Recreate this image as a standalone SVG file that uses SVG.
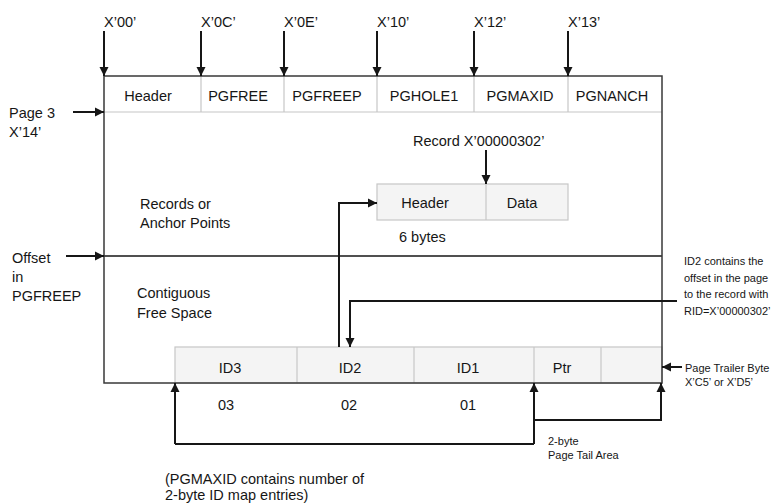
<svg xmlns="http://www.w3.org/2000/svg" width="783" height="504" viewBox="0 0 783 504">
<defs>
<marker id="ah" markerUnits="userSpaceOnUse" markerWidth="10" markerHeight="10" refX="9" refY="5" orient="auto">
<path d="M0,0.5 L9,5 L0,9.5 z" fill="#161616"/>
</marker>
<style>
text{font-family:"Liberation Sans","Noto Sans",sans-serif;fill:#161616}
.t{font-size:14.5px}
.s{font-size:11px}
.m{text-anchor:middle}
.cell{fill:#f4f4f4;stroke:#c6c6c6;stroke-width:1.2}
.div{stroke:#c6c6c6;stroke-width:1.2;fill:none}
.box{fill:none;stroke:#393939;stroke-width:1.5}
.c{fill:none;stroke:#161616;stroke-width:2;marker-end:url(#ah)}
.ln{fill:none;stroke:#161616;stroke-width:2}
.thin{fill:none;stroke:#161616;stroke-width:1.3}
</style>
</defs>
<rect width="783" height="504" fill="#ffffff"/>

<g id="page">
<line class="div" x1="104" y1="112" x2="662" y2="112"/>
<line class="thin" x1="104" y1="256" x2="662" y2="256"/>
</g>

<g id="header-row">
<line class="div" x1="201" y1="76" x2="201" y2="112"/>
<line class="div" x1="284" y1="76" x2="284" y2="112"/>
<line class="div" x1="377" y1="76" x2="377" y2="112"/>
<line class="div" x1="474" y1="76" x2="474" y2="112"/>
<line class="div" x1="568" y1="76" x2="568" y2="112"/>
<text class="t m" x="148" y="101">Header</text>
<text class="t m" x="238" y="101">PGFREE</text>
<text class="t m" x="327" y="101">PGFREEP</text>
<text class="t m" x="424" y="101">PGHOLE1</text>
<text class="t m" x="520" y="101">PGMAXID</text>
<text class="t m" x="612" y="101">PGNANCH</text>
</g>

<g id="record">
<rect class="cell" x="377" y="184" width="191" height="36"/>
<line class="div" x1="486" y1="184" x2="486" y2="220"/>
<text class="t m" x="425" y="208">Header</text>
<text class="t m" x="522" y="208">Data</text>
<text class="t" x="399" y="242">6 bytes</text>
<text class="t" x="413" y="146">Record X’00000302’</text>
</g>

<g id="idmap">
<rect class="cell" x="175" y="347" width="487" height="36"/>
<line class="div" x1="297" y1="347" x2="297" y2="383"/>
<line class="div" x1="414" y1="347" x2="414" y2="383"/>
<line class="div" x1="534" y1="347" x2="534" y2="383"/>
<line class="div" x1="601" y1="347" x2="601" y2="383"/>
<text class="t m" x="230" y="373">ID3</text>
<text class="t m" x="350" y="373">ID2</text>
<text class="t m" x="468" y="373">ID1</text>
<text class="t m" x="562" y="373">Ptr</text>
<text class="t m" x="226" y="410">03</text>
<text class="t m" x="349" y="410">02</text>
<text class="t m" x="468" y="410">01</text>
</g>

<g id="outline">
<rect class="box" x="104" y="76" width="558" height="307"/>
</g>

<g id="offset-labels">
<text class="t" x="104" y="27">X’00’</text>
<text class="t" x="201" y="27">X’0C’</text>
<text class="t" x="284" y="27">X’0E’</text>
<text class="t" x="377" y="27">X’10’</text>
<text class="t" x="474" y="27">X’12’</text>
<text class="t" x="568" y="27">X’13’</text>
</g>

<g id="left-labels">
<text class="t" x="9" y="118">Page 3</text>
<text class="t" x="9" y="137">X’14’</text>
<text class="t" x="12" y="263">Offset</text>
<text class="t" x="12" y="282">in</text>
<text class="t" x="12" y="301">PGFREEP</text>
</g>

<g id="area-labels">
<text class="t" x="140" y="209">Records or</text>
<text class="t" x="140" y="228">Anchor Points</text>
<text class="t" x="137" y="298">Contiguous</text>
<text class="t" x="137" y="318">Free Space</text>
</g>

<g id="notes">
<text class="s" x="684" y="265">ID2 contains the</text>
<text class="s" x="684" y="281.5">offset in the page</text>
<text class="s" x="684" y="298">to the record with</text>
<text class="s" x="684" y="315">RID=X’00000302’</text>
<text class="s" x="685" y="372">Page Trailer Byte</text>
<text class="s" x="685" y="386">X’C5’ or X’D5’</text>
<text class="s" x="548" y="445">2-byte</text>
<text class="s" x="548" y="459">Page Tail Area</text>
<text class="t" x="165" y="484">(PGMAXID contains number of</text>
<text class="t" x="165" y="500">2-byte ID map entries)</text>
</g>

<g id="connectors">
<line class="c" x1="104" y1="31" x2="104" y2="76"/>
<line class="c" x1="201" y1="31" x2="201" y2="76"/>
<line class="c" x1="284" y1="31" x2="284" y2="76"/>
<line class="c" x1="377" y1="31" x2="377" y2="76"/>
<line class="c" x1="474" y1="31" x2="474" y2="76"/>
<line class="c" x1="568" y1="31" x2="568" y2="76"/>
<line class="c" x1="73" y1="112" x2="104" y2="112"/>
<line class="c" x1="66" y1="256" x2="104" y2="256"/>
<line class="c" x1="486" y1="150" x2="486" y2="184"/>
<polyline class="c" points="339,347 339,203 377,203"/>
<polyline class="c" points="677,301 350,301 350,347"/>
<line class="c" x1="682" y1="367" x2="662" y2="367"/>
<polyline class="c" points="175,444 175,383"/>
<polyline class="ln" points="175,444 534,444"/>
<polyline class="c" points="534,444 534,383"/>
<polyline class="c" points="534,420 661,420 661,383"/>
</g>
</svg>
